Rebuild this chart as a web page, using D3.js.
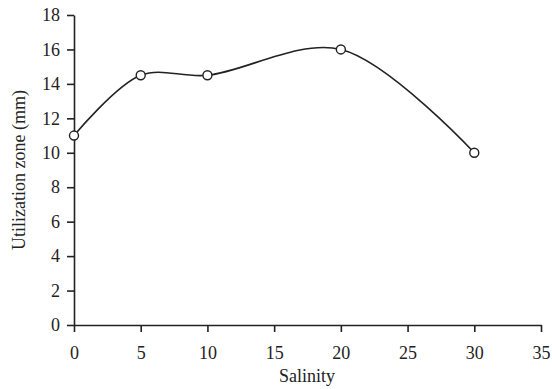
<!DOCTYPE html>
<html><head><meta charset="utf-8">
<script src="https://cdn.jsdelivr.net/npm/d3@7"></script>
<style>body{margin:0;background:#fff}svg text{font-family:"Liberation Serif","Times New Roman",Times,serif !important;fill:#222}</style>
</head><body><svg id="c" width="552" height="389"></svg>
<script>
const salinity = [0, 5, 10, 20, 30];
const zone = [11, 14.5, 14.5, 16, 10];
const xTicks = [0, 5, 10, 15, 20, 25, 30, 35];
const yTicks = [0, 2, 4, 6, 8, 10, 12, 14, 16, 18];
const xTitle = "Salinity";
const yTitle = "Utilization zone (mm)";

const svg = d3.select("#c");
const x = d3.scaleLinear().domain([0, 35]).range([74, 541]);
const y = d3.scaleLinear().domain([0, 18]).range([325, 15]);
const fs = 18;
const ff = "Liberation Serif";

const gx = svg.append("g").attr("transform", "translate(0,325)")
  .call(d3.axisBottom(x).tickValues(xTicks).tickSize(7).tickSizeOuter(0).tickPadding(14));
const gy = svg.append("g").attr("transform", "translate(74,0)")
  .call(d3.axisLeft(y).tickValues(yTicks).tickSize(7).tickSizeOuter(0).tickPadding(7));
[gx, gy].forEach(g => {
  g.attr("font-family", ff).attr("font-size", fs);
  g.selectAll("path,line").attr("stroke", "#222").attr("stroke-width", 1.6);
  g.selectAll("text").attr("font-size", fs).attr("font-family", ff).attr("fill", "#222");
});

svg.append("text").attr("x", 307).attr("y", 382).attr("text-anchor", "middle")
  .attr("font-family", ff).attr("font-size", fs).text(xTitle);
svg.append("text").attr("transform", "translate(25,170) rotate(-90)").attr("text-anchor", "middle")
  .attr("font-family", ff).attr("font-size", fs).text(yTitle);

const pts = salinity.map((s, i) => [s, zone[i]]);
svg.append("path").datum(pts)
  .attr("d", d3.line().x(d => x(d[0])).y(d => y(d[1])).curve(d3.curveCatmullRom.alpha(0.5)))
  .attr("fill", "none").attr("stroke", "#222").attr("stroke-width", 1.6);
svg.selectAll("circle.m").data(pts).enter().append("circle")
  .attr("cx", d => x(d[0])).attr("cy", d => y(d[1])).attr("r", 4.5)
  .attr("fill", "#fff").attr("stroke", "#222").attr("stroke-width", 1.4);
</script></body></html>
